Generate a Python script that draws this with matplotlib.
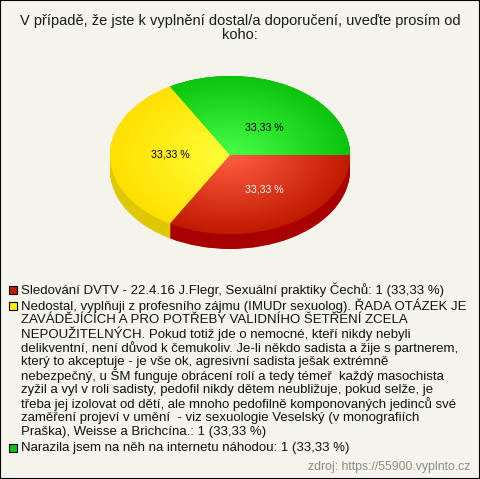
import numpy as np
import matplotlib
matplotlib.use('Agg')
import matplotlib.pyplot as plt
from matplotlib.colors import LinearSegmentedColormap
from matplotlib.patches import Rectangle

plt.rcParams['font.family'] = ['Liberation Sans', 'DejaVu Sans']

title = "V případě, že jste k vyplnění dostal/a doporučení, uveďte prosím od\nkoho:"
values = [1, 1, 1]
labels = [
    "Sledování DVTV - 22.4.16 J.Flegr, Sexuální praktiky Čechů: 1 (33,33 %)",
    "Nedostal, vyplňuji z profesního zájmu (IMUDr sexuolog). ŘADA OTÁZEK JE\n"
    "ZAVÁDĚJÍCÍCH A PRO POTŘEBY VALIDNÍHO ŠETŘENÍ ZCELA\n"
    "NEPOUŽITELNÝCH. Pokud totiž jde o nemocné, kteří nikdy nebyli\n"
    "delikventní, není důvod k čemukoliv. Je-li někdo sadista a žije s partnerem,\n"
    "který to akceptuje - je vše ok, agresivní sadista ješak extrémně\n"
    "nebezpečný, u ŠM funguje obrácení rolí a tedy témeř  každý masochista\n"
    "zyžil a vyl v roli sadisty, pedofil nikdy dětem neubližuje, pokud selže, je\n"
    "třeba jej izolovat od dětí, ale mnoho pedofilně komponovaných jedinců své\n"
    "zaměření projeví v umění  - viz sexuologie Veselský (v monografiích\n"
    "Praška), Weisse a Brichcína.: 1 (33,33 %)",
    "Narazila jsem na něh na internetu náhodou: 1 (33,33 %)",
]
source = "zdroj: https://55900.vyplnto.cz"

inner_colors = ['#ff5e42', '#ffff3a', '#46ff46']
outer_colors = ['#c01a00', '#ffe000', '#0cc40c']
side_colors = ['#a80000', '#e0c800', '#0a9a0a']
legend_colors = ['#c41c00', '#ffee00', '#10c010']
label_colors = ['white', 'black', 'black']
bg = '#f4f4ec'

W, H = 480, 479
fig = plt.figure(figsize=(W / 100, H / 100), dpi=100, facecolor=bg)

# pie geometry in pixels
cx, cy, rx, ry = 230, 155, 120, 79
depth = 15 / ry
xl = (-1.05, 1.05)
yl = (-1.3, 1.05)
left = cx + xl[0] * rx
top = cy - yl[1] * ry
bottom = cy - yl[0] * ry
ax = fig.add_axes([left / W, (H - bottom) / H, (xl[1] - xl[0]) * rx / W, (bottom - top) / H])
ax.set_facecolor('none')

# side of the 3d pie
for d in np.linspace(depth, 0.0, 30):
    ax.pie(values, colors=side_colors, startangle=0, counterclock=False, center=(0, -d))

wedges, _, autotexts = ax.pie(values, colors=outer_colors, startangle=0, counterclock=False,
                              autopct=lambda p: ('%.2f %%' % p).replace('.', ','),
                              pctdistance=0.5, textprops={'fontsize': 7.6})

gx, gy = np.meshgrid(np.linspace(-1, 1, 400), np.linspace(-1, 1, 400))
r = np.clip(np.sqrt(gx ** 2 + gy ** 2), 0, 1)
for w, ci, co in zip(wedges, inner_colors, outer_colors):
    cmap = LinearSegmentedColormap.from_list('g', [ci, co])
    im = ax.imshow(r, cmap=cmap, extent=(-1, 1, -1, 1), origin='lower', vmin=0, vmax=1,
                   interpolation='bilinear', zorder=2, aspect='auto')
    im.set_clip_path(w)

for t, c in zip(autotexts, label_colors):
    t.set_color(c)
    t.set_zorder(5)
# nudge labels a bit towards the rim like the original
x, y = autotexts[2].get_position()
autotexts[2].set_position((x + 0.04, y - 0.08))
x, y = autotexts[0].get_position()
autotexts[0].set_position((x + 0.04, y))

ax.set_aspect('auto')
ax.set_xlim(*xl)
ax.set_ylim(*yl)
ax.axis('off')

# title
fig.text(240 / W, 1 - 28 / H, title, ha='center', va='center', fontsize=10.5,
         linespacing=0.98, color='#1a1a1a')

# legend
item_y = [290, 306, 448]
for lab, col, y0 in zip(labels, legend_colors, item_y):
    fig.patches.append(Rectangle((9 / W, 1 - (y0 + 4) / H), 8 / W, 8 / H, transform=fig.transFigure,
                                 facecolor=col, edgecolor='black', linewidth=0.8))
    for i, line in enumerate(lab.split('\n')):
        fig.text(21 / W, 1 - (y0 + i * 14) / H, line, ha='left', va='center',
                 fontsize=9.5, color='#111111')

fig.text(470 / W, 1 - 467 / H, source, ha='right', va='center', fontsize=8.8, color='#8a8a8a')

fig.patches.append(Rectangle((0, 0), 1, 1, transform=fig.transFigure, facecolor='none',
                             edgecolor='black', linewidth=1.5))

fig.savefig('out.png', dpi=100, facecolor=bg)
